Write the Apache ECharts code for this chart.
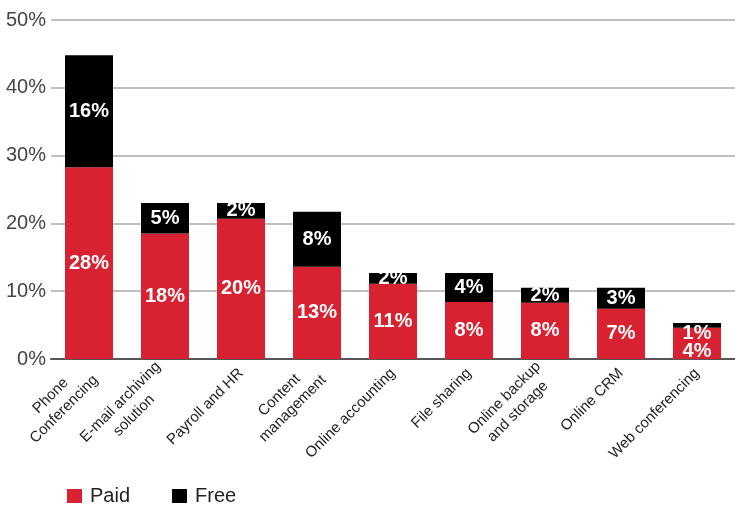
<!DOCTYPE html>
<html>
<head>
<meta charset="utf-8">
<script src="https://cdn.jsdelivr.net/npm/echarts@6/dist/echarts.min.js"></script>
<style>
html,body{margin:0;padding:0;background:#fff;}
#chart{width:735px;height:508px;}
</style>
</head>
<body>
<div id="chart"></div>
<script>
const categories = ["Phone\nConferencing", "E-mail archiving\nsolution", "Payroll and HR", "Content\nmanagement", "Online accounting", "File sharing", "Online backup\nand storage", "Online CRM", "Web conferencing"];
const paidValues = [28.3, 18.5, 20.7, 13.6, 11.1, 8.4, 8.3, 7.4, 4.6];
const freeValues = [16.5, 4.5, 2.3, 8.1, 1.6, 4.3, 2.2, 3.1, 0.7];
const paidLabels = ["28%", "18%", "20%", "13%", "11%", "8%", "8%", "7%", "4%"];
const freeLabels = ["16%", "5%", "2%", "8%", "2%", "4%", "2%", "3%", "1%"];
const yTicks = [0, 10, 20, 30, 40, 50];

const FONT = "Liberation Sans, Arial, Helvetica, sans-serif";
const chart = echarts.init(document.getElementById('chart'), null, {renderer: 'canvas'});

const barLabel = (labels) => ({
  show: true,
  position: 'inside',
  color: '#fff',
  fontFamily: FONT,
  fontWeight: 'bold',
  fontSize: 20,
  formatter: p => labels[p.dataIndex]
});

const paidData = paidValues.map((v, i) => i === 8 ? {value: v, label: {offset: [0, 8]}} : v);
const freeData = freeValues.map((v, i) => i === 8 ? {value: v, label: {offset: [0, 8]}} : v);

chart.setOption({
  animation: false,
  backgroundColor: '#fff',
  grid: {left: 51, right: 0, top: 20, bottom: 149},
  legend: {
    left: 62, top: 481,
    icon: 'rect', itemWidth: 15, itemHeight: 14, itemGap: 42,
    textStyle: {fontFamily: FONT, fontSize: 20, color: '#222', padding: [0, 0, 0, 3]},
    data: ['Paid', 'Free']
  },
  xAxis: {
    type: 'category',
    data: categories,
    axisLine: {lineStyle: {color: '#555', width: 2}},
    axisTick: {show: false},
    axisLabel: {
      interval: 0, rotate: 45, margin: 12,
      fontFamily: FONT, fontSize: 15, color: '#222', lineHeight: 19,
      formatter: v => v.split('\n').map(s => '{c|' + s + '}').join('\n'),
      rich: {c: {align: 'center', fontFamily: FONT, fontSize: 15, color: '#222', lineHeight: 19}}
    }
  },
  yAxis: {
    type: 'value', min: 0, max: 50, interval: 10,
    axisLine: {show: false}, axisTick: {show: false},
    splitLine: {lineStyle: {color: '#aaa', width: 1.5}},
    axisLabel: {
      margin: 5, fontFamily: FONT, fontSize: 20, color: '#444',
      formatter: v => yTicks.includes(v) ? v + '%' : ''
    }
  },
  series: [
    {name: 'Paid', type: 'bar', stack: 's', barWidth: 48, data: paidData,
     itemStyle: {color: '#d92231'}, label: barLabel(paidLabels)},
    {name: 'Free', type: 'bar', stack: 's', barWidth: 48, data: freeData,
     itemStyle: {color: '#000'}, label: barLabel(freeLabels)}
  ]
});
</script>
</body>
</html>
